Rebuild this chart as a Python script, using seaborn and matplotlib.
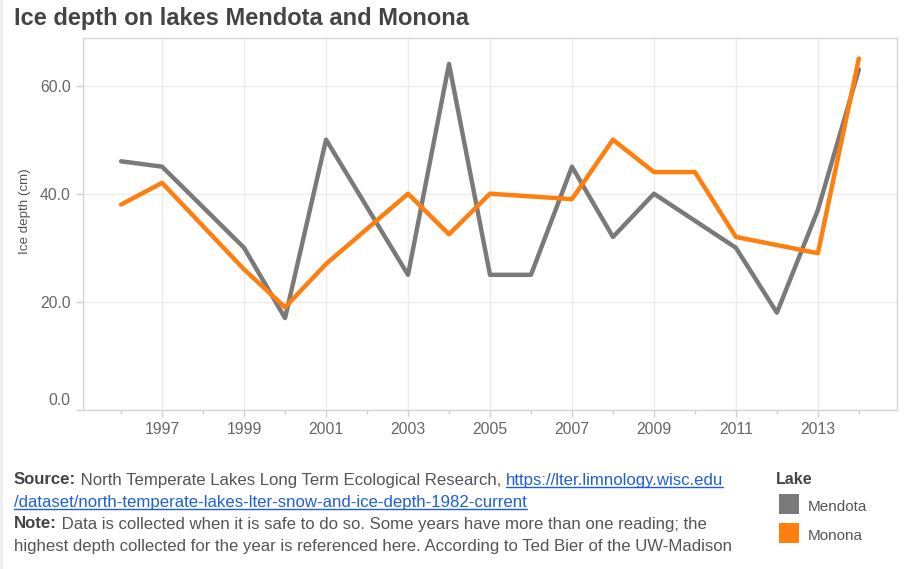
import pandas as pd
import matplotlib.pyplot as plt
import seaborn as sns
from matplotlib.patches import Rectangle
from matplotlib.lines import Line2D
from matplotlib.transforms import ScaledTranslation

# Values (highest ice depth per year, cm)
mendota_years = [1996, 1997, 1999, 2000, 2001, 2003, 2004, 2005, 2006, 2007,
                 2008, 2009, 2011, 2012, 2013, 2014]
mendota_depth = [46, 45, 30, 17, 50, 25, 64, 25, 25, 45,
                 32, 40, 30, 18, 37, 63]
monona_years = [1996, 1997, 1999, 2000, 2001, 2003, 2004, 2005, 2007, 2008,
                2009, 2010, 2011, 2013, 2014]
monona_depth = [38, 42, 26, 19, 27, 40, 32.5, 40, 39, 50,
                44, 44, 32, 29, 65]
lakes = ["Mendota", "Monona"]
lake_colors = ["#7a7a7a", "#ff7f0e"]
y_ticks = [0, 20, 40, 60]
x_major = list(range(1997, 2014, 2))
x_minor = list(range(1996, 2015, 2))

df = pd.concat([
    pd.DataFrame({"year": mendota_years, "depth": mendota_depth, "lake": "Mendota"}),
    pd.DataFrame({"year": monona_years, "depth": monona_depth, "lake": "Monona"}),
], ignore_index=True)

sns.set_theme(style="white")
plt.rcParams['font.family'] = ['Liberation Sans', 'DejaVu Sans']

W, H = 905, 569
fig = plt.figure(figsize=(W / 100, H / 100), dpi=100)


def fx(px):
    return px / W


def fy(py):
    return 1 - py / H


ax = fig.add_axes([fx(83), fy(410), fx(897) - fx(83), fy(38) - fy(410)])

sns.lineplot(data=df, x="year", y="depth", hue="lake", hue_order=lakes,
             palette=dict(zip(lakes, lake_colors)), linewidth=3.2, legend=False,
             ax=ax, zorder=3)

ax.set_xlim(1995.07, 2014.93)
ax.set_ylim(0, 68.8)
ax.set_xticks(x_major)
ax.set_xticks(x_minor, minor=True)
ax.set_xticklabels([str(y) for y in x_major])
ax.set_yticks(y_ticks)
ax.set_yticklabels([f"{v:.1f}" for v in y_ticks])
ax.set_xlabel("")
ax.set_ylabel("")
ax.grid(True, which="major", color="#ececec", linewidth=1)
for s in ax.spines.values():
    s.set_color("#d6d6d6")
    s.set_linewidth(1)
ax.tick_params(axis="both", which="major", labelsize=11.3, labelcolor="#666666",
               color="#d0d0d0", length=5, width=1, pad=4, left=True, bottom=True)
ax.tick_params(axis="x", which="minor", color="#d0d0d0", length=3, width=1, bottom=True)
# Tableau nudges the bottom label up so it stays inside the pane
zero_lab = ax.yaxis.get_major_ticks()[0].label1
zero_lab.set_transform(zero_lab.get_transform() + ScaledTranslation(0, 8 / 72, fig.dpi_scale_trans))

fig.text(fx(25), fy(211), "Ice depth (cm)", rotation=90, ha="center", va="center",
         fontsize=9.6, color="#555555")

# left edge strip
fig.add_artist(Rectangle((0, 0), fx(3), 1, transform=fig.transFigure,
                         facecolor="#eeeeee", edgecolor="none"))

fig.text(fx(14), fy(25), "Ice depth on lakes Mendota and Monona", fontsize=17,
         fontweight="bold", color="#444444", va="baseline", ha="left")

renderer = fig.canvas.get_renderer()
fs = 12.1


def put_line(x_px, y_px, pieces):
    x = x_px
    for txt, bold, color, link in pieces:
        t = fig.text(fx(x), fy(y_px), txt, fontsize=fs, color=color, ha="left",
                     va="center", fontweight="bold" if bold else "normal")
        bb = t.get_window_extent(renderer)
        if link:
            fig.add_artist(Line2D([bb.x0 / W, bb.x1 / W], [(bb.y0 + 1) / H] * 2,
                                  transform=fig.transFigure, color=color, linewidth=1))
        x += bb.width


link_c = "#1f5fd6"
text_c = "#555555"
put_line(14, 480, [("Source:", True, "#444444", False),
                   (" North Temperate Lakes Long Term Ecological Research, ", False, text_c, False),
                   ("https://lter.limnology.wisc.edu", False, link_c, True)])
put_line(14, 502, [("/dataset/north-temperate-lakes-lter-snow-and-ice-depth-1982-current",
                    False, link_c, True)])
put_line(14, 524, [("Note:", True, "#444444", False),
                   (" Data is collected when it is safe to do so. Some years have more than one reading; the",
                    False, text_c, False)])
put_line(14, 546, [("highest depth collected for the year is referenced here. According to Ted Bier of the UW-Madison",
                    False, text_c, False)])

# legend
fig.text(fx(776), fy(479), "Lake", fontsize=11.5, fontweight="bold", color="#444444",
         ha="left", va="center")
for i, (name, col) in enumerate(zip(lakes, lake_colors)):
    top = 494 + i * 29
    fig.add_artist(Rectangle((fx(779), fy(top + 20)), fx(20), fy(top) - fy(top + 20),
                             transform=fig.transFigure, facecolor=col, edgecolor="none"))
    fig.text(fx(808), fy(top + 13), name, fontsize=11, color="#555555", ha="left", va="center")

fig.savefig("out.png", dpi=100)
